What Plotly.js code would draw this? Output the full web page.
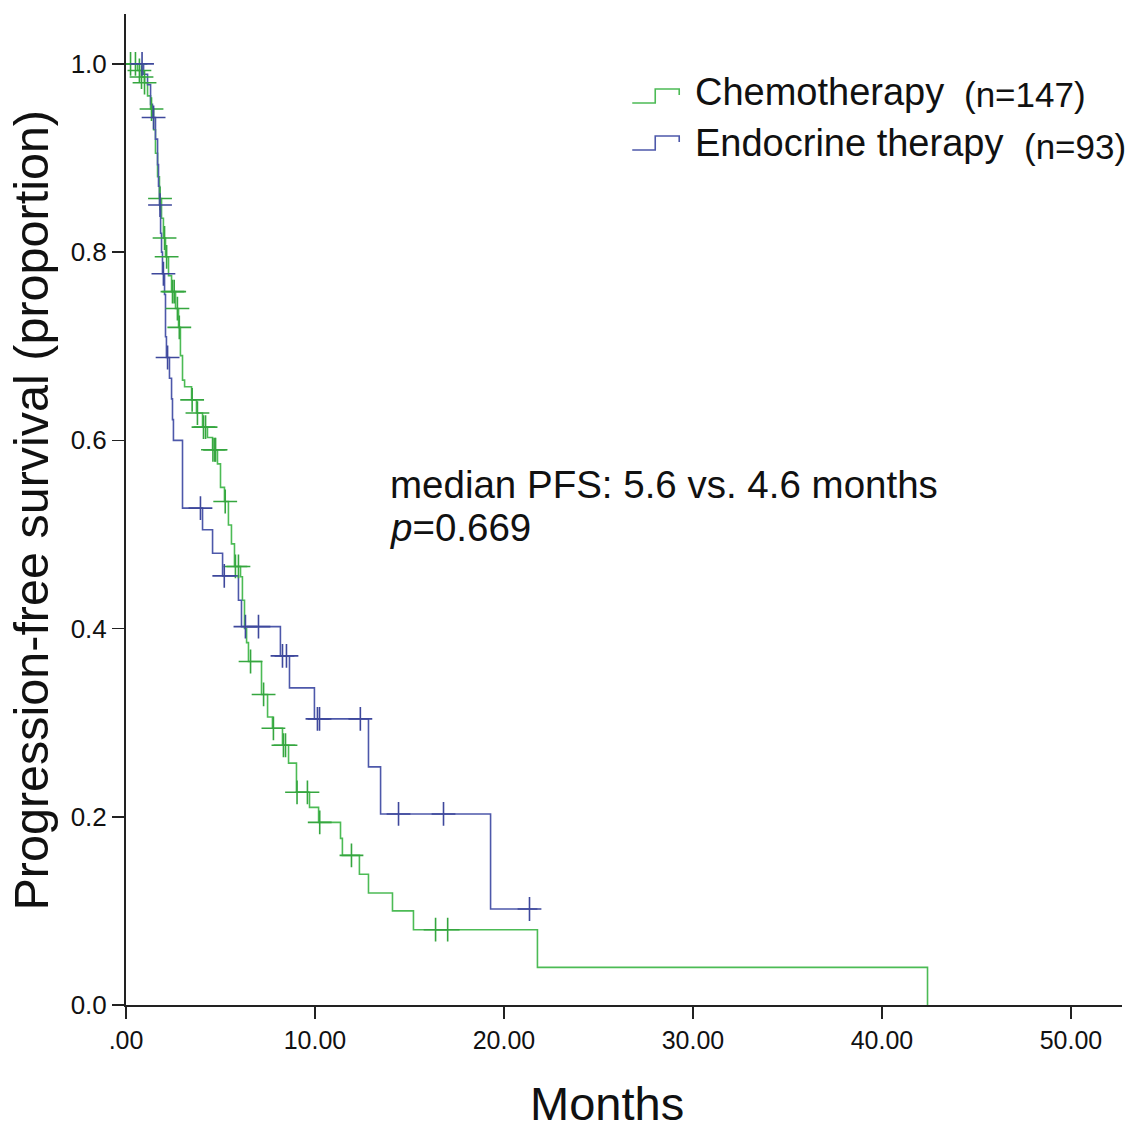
<!DOCTYPE html>
<html>
<head>
<meta charset="utf-8">
<script src="https://cdn.plot.ly/plotly-3.0.1.min.js"></script>
<style>
  body { margin: 0; background: #fff; }
  #chart { width: 1138px; height: 1130px; }
</style>
</head>
<body>
<div id="chart"></div>
<script>
// Kaplan-Meier steps (months, proportion)
var chemoTime = [0, 0.61, 0.82, 0.98, 1.14, 1.30, 1.46, 1.56, 1.67, 1.77, 1.88, 1.98, 2.09, 2.25, 2.41, 2.62, 2.78, 2.88, 2.99, 3.10,
  3.47, 3.73, 4.05, 4.31, 4.58, 4.84, 5.00, 5.21, 5.42, 5.58, 5.74, 6.06, 6.16, 6.27, 6.38, 6.48, 7.17, 7.49, 7.75, 8.28,
  8.60, 9.02, 9.71, 10.19, 11.35, 11.45, 12.35, 12.83, 14.10, 15.21, 21.77, 42.41];
var chemoSurv = [1, 0.993, 0.986, 0.98, 0.966, 0.952, 0.93, 0.905, 0.88, 0.857, 0.836, 0.815, 0.795, 0.775, 0.758, 0.74, 0.72, 0.69, 0.664, 0.657,
  0.643, 0.629, 0.614, 0.603, 0.59, 0.575, 0.55, 0.535, 0.51, 0.49, 0.466, 0.455, 0.43, 0.40, 0.385, 0.365, 0.33, 0.306, 0.294, 0.276,
  0.257, 0.226, 0.21, 0.194, 0.177, 0.159, 0.139, 0.119, 0.10, 0.08, 0.04, 0];

var chemoCensTime = [0.24, 0.50, 0.71, 0.82, 0.98, 1.35, 1.80, 2.04, 2.15, 2.46, 2.55, 2.72, 2.82, 3.50, 3.78, 4.10, 4.21,
  4.60, 4.70, 4.74, 5.25, 5.79, 5.95, 6.59, 7.28, 7.80, 8.33, 8.44, 9.05, 9.60, 10.25, 11.93, 16.38, 17.02];
var chemoCensSurv = [1, 1, 0.993, 0.986, 0.98, 0.952, 0.857, 0.815, 0.795, 0.758, 0.758, 0.74, 0.72, 0.643, 0.629, 0.614, 0.614,
  0.59, 0.59, 0.59, 0.535, 0.466, 0.466, 0.365, 0.33, 0.294, 0.276, 0.276, 0.226, 0.226, 0.194, 0.159, 0.08, 0.08];

var endoTime = [0, 0.93, 1.14, 1.30, 1.40, 1.56, 1.67, 1.72, 1.77, 1.83, 1.88, 1.93, 2.04, 2.09, 2.14, 2.30, 2.41, 2.46, 2.51, 2.99,
  4.05, 4.58, 5.11, 5.95, 6.11, 8.17, 8.65, 9.97, 12.83, 13.47, 19.29, 21.77];
var endoSurv = [1, 0.989, 0.978, 0.957, 0.943, 0.92, 0.893, 0.87, 0.85, 0.82, 0.80, 0.777, 0.755, 0.71, 0.688, 0.666, 0.644, 0.622, 0.60, 0.528,
  0.505, 0.48, 0.456, 0.43, 0.402, 0.371, 0.337, 0.304, 0.253, 0.203, 0.102, 0.102];

var endoCensTime = [0.85, 1.46, 1.80, 1.98, 2.20, 3.94, 5.20, 6.32, 7.01, 8.28, 8.49, 10.13, 10.24, 12.40, 14.42, 16.80, 21.35];
var endoCensSurv = [1, 0.943, 0.85, 0.777, 0.688, 0.528, 0.456, 0.402, 0.402, 0.371, 0.371, 0.304, 0.304, 0.304, 0.203, 0.203, 0.102];

var xTickVals = [0, 10, 20, 30, 40, 50];
var xTickText = ['.00', '10.00', '20.00', '30.00', '40.00', '50.00'];
var yTickVals = [0, 0.2, 0.4, 0.6, 0.8, 1.0];

var green = '#4cbb55';
var blue = '#4d58aa';
var font = 'Liberation Sans, Arial, sans-serif';

var chemoLine = {
  x: chemoTime, y: chemoSurv,
  mode: 'lines', line: {shape: 'hv', color: green, width: 1.6},
  hoverinfo: 'skip'
};
var endoLine = {
  x: endoTime, y: endoSurv,
  mode: 'lines', line: {shape: 'hv', color: blue, width: 1.6},
  hoverinfo: 'skip'
};
var chemoCens = {
  x: chemoCensTime, y: chemoCensSurv,
  mode: 'markers',
  marker: {symbol: 'cross-thin', size: 17, line: {color: '#35a63f', width: 1.6}},
  hoverinfo: 'skip'
};
var endoCens = {
  x: endoCensTime, y: endoCensSurv,
  mode: 'markers',
  marker: {symbol: 'cross-thin', size: 17, line: {color: '#3e489c', width: 1.6}},
  hoverinfo: 'skip'
};

var data = [chemoLine, endoLine, chemoCens, endoCens];

// plot area: 125.5..1122 px wide, 14..1005 px tall
function px(x) { return (x - 125.5) / 996.5; }
function py(y) { return (1005 - y) / 991; }

function label(x, y, text, size, extra) {
  var a = {xref: 'paper', yref: 'paper', x: px(x), y: py(y), xanchor: 'left', yanchor: 'middle',
           showarrow: false, text: text, font: {size: size, family: font, color: '#111'}};
  for (var k in extra) a[k] = extra[k];
  return a;
}

var layout = {
  width: 1138, height: 1130,
  margin: {l: 125.5, r: 16, t: 14, b: 125},
  paper_bgcolor: '#fff', plot_bgcolor: '#fff',
  showlegend: false,
  font: {family: font, color: '#111'},
  xaxis: {
    range: [0, 52.7], tickvals: xTickVals, ticktext: xTickText,
    showgrid: false, zeroline: false, showline: true, linecolor: '#222', linewidth: 2,
    ticks: 'outside', ticklen: 12, tickwidth: 1.5, tickcolor: '#222',
    tickfont: {size: 25, family: font, color: '#111'}
  },
  yaxis: {
    range: [0, 1.053], tickvals: yTickVals, tickformat: '.1f',
    showgrid: false, zeroline: false, showline: true, linecolor: '#222', linewidth: 2,
    ticks: 'outside', ticklen: 12, tickwidth: 1.5, tickcolor: '#222',
    tickfont: {size: 26, family: font, color: '#111'}
  },
  shapes: [
    {type: 'path', xref: 'paper', yref: 'paper',
     path: 'M' + px(632) + ',' + py(103) + ' L' + px(655) + ',' + py(103) + ' L' + px(655) + ',' + py(89) +
           ' L' + px(679) + ',' + py(89) + ' L' + px(679) + ',' + py(95),
     line: {color: green, width: 1.6}},
    {type: 'path', xref: 'paper', yref: 'paper',
     path: 'M' + px(632) + ',' + py(150) + ' L' + px(655) + ',' + py(150) + ' L' + px(655) + ',' + py(136) +
           ' L' + px(679) + ',' + py(136) + ' L' + px(679) + ',' + py(142),
     line: {color: blue, width: 1.6}}
  ],
  annotations: [
    label(693, 92, 'Chemotherapy', 38),
    label(962, 95, '(n=147)', 35),
    label(693, 143, 'Endocrine therapy', 38),
    label(1022, 146, '(n=93)', 35),
    label(388, 484, 'median PFS: 5.6 vs. 4.6 months', 38.5),
    label(388, 527, '<i>p</i>=0.669', 38.5),
    label(607, 1103, 'Months', 47, {xanchor: 'center'}),
    label(30, 510, 'Progression-free survival (proportion)', 48.5, {xanchor: 'center', textangle: -90})
  ]
};

Plotly.newPlot('chart', data, layout, {displayModeBar: false, staticPlot: true});
</script>
</body>
</html>
